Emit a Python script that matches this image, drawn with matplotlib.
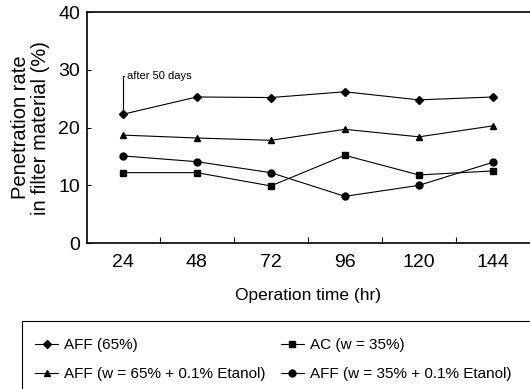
import matplotlib
matplotlib.use("Agg")
from matplotlib import pyplot as plt
from matplotlib.patches import Rectangle

plt.rcParams['font.family'] = ['Liberation Sans', 'DejaVu Sans']

hours = [24, 48, 72, 96, 120, 144]
aff65 = [22.3, 25.3, 25.2, 26.2, 24.8, 25.3]
ac35 = [12.2, 12.2, 9.9, 15.2, 11.8, 12.5]
aff65_eth = [18.7, 18.2, 17.8, 19.7, 18.4, 20.3]
aff35_eth = [15.1, 14.1, 12.2, 8.1, 10.0, 14.0]
mid_ticks = [36, 60, 84, 108, 132]

fig = plt.figure(figsize=(5.30, 3.89), dpi=100)
ax = fig.add_axes([0.164, 0.375, 0.836, 0.594])

kw = dict(color='black', lw=0.8, ms=5)
l1, = ax.plot(hours, aff65, marker='D', ms=4.5, color='black', lw=0.8, label="AFF (65%)")
l2, = ax.plot(hours, ac35, marker='s', label="AC (w = 35%)", **kw)
l3, = ax.plot(hours, aff65_eth, marker='^', label="AFF (w = 65% + 0.1% Etanol)", **kw)
l4, = ax.plot(hours, aff35_eth, marker='o', label="AFF (w = 35% + 0.1% Etanol)", **kw)

ax.annotate("after 50 days", xy=(24, 22.8), xytext=(25.3, 29.0),
            fontsize=8, ha='left', va='center',
            arrowprops=dict(arrowstyle='-', lw=0.8, color='black',
                            shrinkA=0, shrinkB=0,
                            connectionstyle="angle,angleA=0,angleB=90,rad=0"))

ax.set_xlim(12.4, 156)
ax.set_ylim(0, 40)
ax.set_xticks(hours)
ax.set_xticks(mid_ticks, minor=True)
ax.set_yticks([0, 10, 20, 30, 40])
ax.tick_params(axis='x', which='major', length=0, labelsize=14, pad=8)
ax.tick_params(axis='x', which='minor', direction='in', length=4, width=0.8)
ax.tick_params(axis='y', direction='in', length=3, width=0.8, labelsize=14, pad=5)
ax.spines['right'].set_visible(False)
for s in ['left', 'bottom', 'top']:
    ax.spines[s].set_linewidth(1.2)

ax.set_ylabel("Penetration rate\nin filter material (%)", fontsize=14.5, labelpad=6, linespacing=1.05)
ax.set_xlabel("Operation time (hr)", fontsize=12.5, labelpad=12)

# legend frame spans the figure bottom
fig.patches.append(Rectangle((22 / 530, -0.01), 1.0, 68 / 389 + 0.01, transform=fig.transFigure,
                             fill=False, edgecolor='black', lw=0.8))
leg = fig.legend(handles=[l1, l3, l2, l4], loc='center left', ncol=2,
                 bbox_to_anchor=(0.052, 0.075),
                 fontsize=11, frameon=False,
                 handlelength=1.5, handletextpad=0.4, borderpad=0.0,
                 labelspacing=1.0, columnspacing=1.0)

fig.savefig("out.png", dpi=100)
